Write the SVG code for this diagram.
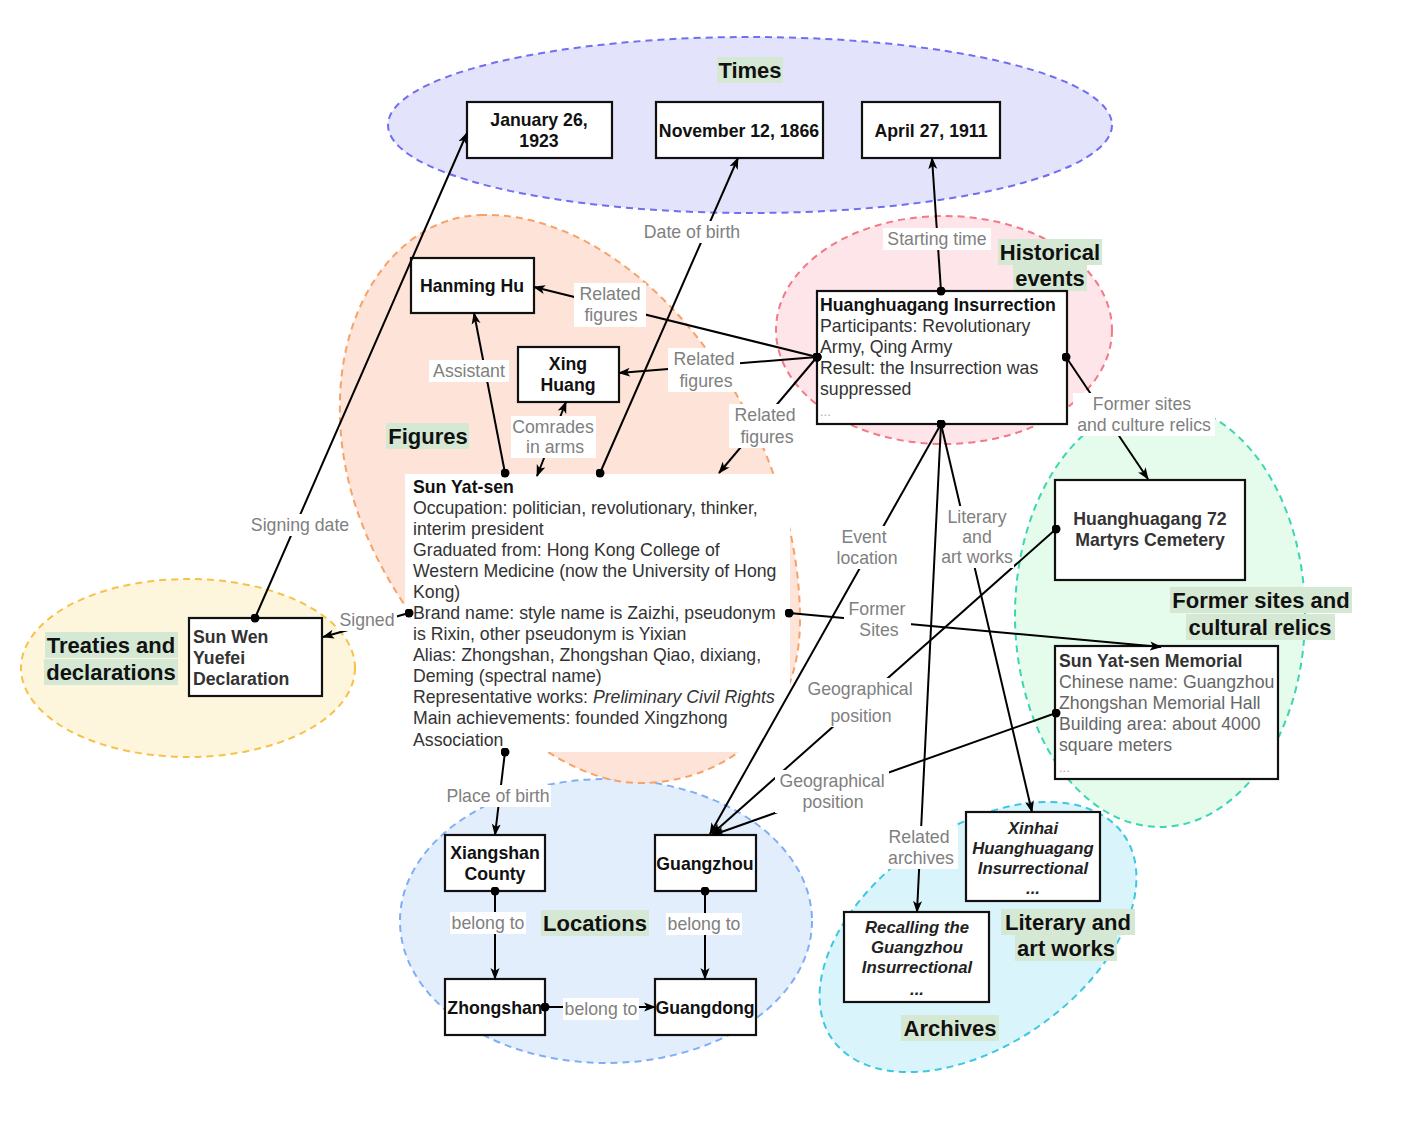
<svg xmlns="http://www.w3.org/2000/svg" width="1406" height="1132" viewBox="0 0 1406 1132">
<style>
text{font-family:"Liberation Sans",Arial,Helvetica,sans-serif;}
.grp{stroke-width:2;stroke-dasharray:7 5;}
.node{fill:#fff;stroke:#111;stroke-width:2.2;}
.t{font-size:17.7px;fill:#111;font-weight:bold;}
.tc{font-size:17.7px;fill:#111;font-weight:bold;text-anchor:middle;}
.tg{font-size:17.7px;fill:#333;font-weight:bold;}
.ti{font-size:16.7px;fill:#222;font-weight:bold;font-style:italic;text-anchor:middle;}
.b{font-size:17.7px;fill:#333;}
.bl{font-size:17.7px;fill:#666;}
.dots{font-size:13px;fill:#aaa;}
.lb{font-size:17.7px;fill:#808080;text-anchor:middle;}
.lbg{fill:#fff;}
.gt{font-size:22px;font-weight:bold;fill:#111;text-anchor:middle;}
.hl{fill:#d5e8d4;}
.c{stroke:#000;stroke-width:2;fill:none;marker-end:url(#a);}
.cd{marker-start:url(#d);}
</style>
<defs>
<marker id="a" viewBox="0 0 12 10" refX="11" refY="5" markerWidth="12" markerHeight="10" markerUnits="userSpaceOnUse" orient="auto-start-reverse"><path d="M0,0.5 L12,5 L0,9.5 L3,5 Z" fill="#000"/></marker>
<marker id="d" viewBox="0 0 10 10" refX="5" refY="5" markerWidth="9" markerHeight="9" markerUnits="userSpaceOnUse"><circle cx="5" cy="5" r="5" fill="#000"/></marker>
</defs>
<rect width="1406" height="1132" fill="#fff"/>

<g id="groups">
<ellipse id="g-times" class="grp" cx="750" cy="125" rx="362" ry="88" fill="#e3e3fb" stroke="#6f6ff0"/>
<ellipse id="g-events" class="grp" cx="944" cy="330" rx="168" ry="114" fill="#fde5ea" stroke="#f27a85"/>
<ellipse id="g-sites" class="grp" cx="1160" cy="615" rx="145" ry="212" fill="#e5fbec" stroke="#3cd6b0"/>
<ellipse id="g-treaties" class="grp" cx="188" cy="668" rx="167" ry="89" fill="#fdf6dd" stroke="#f7c14a"/>
<ellipse id="g-locations" class="grp" cx="606" cy="921" rx="206" ry="142" fill="#e3eefc" stroke="#80aef5"/>
<ellipse id="g-archives" class="grp" cx="978" cy="937" rx="178" ry="108" transform="rotate(-35 978 937)" fill="#d9f4fb" stroke="#3bc8e0"/>
<path id="g-figures" class="grp" d="M480,215 C560,212 640,265 697,337 C760,415 800,520 800,620 C800,730 720,783 640,783 C560,783 470,700 408,610 C360,540 338,470 340,400 C342,300 400,218 480,215 Z" fill="#fde3d8" stroke="#f7a267"/>
</g>

<g id="group-titles">
<rect class="hl" x="717" y="57" width="66" height="26"/><text class="gt" x="750" y="78">Times</text>
<rect class="hl" x="386" y="423" width="83" height="26"/><text class="gt" x="428" y="444">Figures</text>
<rect class="hl" x="998" y="239" width="104" height="26"/><text class="gt" x="1050" y="260">Historical</text>
<rect class="hl" x="1013" y="265" width="74" height="26"/><text class="gt" x="1050" y="286">events</text>
<rect class="hl" x="1170" y="587" width="182" height="26"/><text class="gt" x="1261" y="608">Former sites and</text>
<rect class="hl" x="1186" y="614" width="149" height="26"/><text class="gt" x="1260" y="635">cultural relics</text>
<rect class="hl" x="45" y="632" width="133" height="26"/><text class="gt" x="111" y="653">Treaties and</text>
<rect class="hl" x="44" y="659" width="134" height="26"/><text class="gt" x="111" y="680">declarations</text>
<rect class="hl" x="541" y="910" width="108" height="26"/><text class="gt" x="595" y="931">Locations</text>
<rect class="hl" x="1001" y="909" width="134" height="26"/><text class="gt" x="1068" y="930">Literary and</text>
<rect class="hl" x="1015" y="935" width="102" height="26"/><text class="gt" x="1066" y="956">art works</text>
<rect class="hl" x="901" y="1015" width="98" height="26"/><text class="gt" x="950" y="1036">Archives</text>
</g>

<g id="n-jan"><rect class="node" x="467" y="102" width="145" height="56"/><text class="tc" x="539" y="126">January 26,</text><text class="tc" x="539" y="147">1923</text></g>
<g id="n-nov"><rect class="node" x="656" y="102" width="167" height="56"/><text class="tc" x="739" y="137">November 12, 1866</text></g>
<g id="n-apr"><rect class="node" x="862" y="102" width="138" height="56"/><text class="tc" x="931" y="137">April 27, 1911</text></g>
<g id="n-hanming"><rect class="node" x="411" y="258" width="123" height="55"/><text class="tc" x="472" y="292">Hanming Hu</text></g>
<g id="n-xing"><rect class="node" x="518" y="347" width="101" height="55"/><text class="tc" x="568" y="370">Xing</text><text class="tc" x="568" y="391">Huang</text></g>
<g id="n-sun">
<rect x="405" y="474" width="385" height="278" fill="#fff"/>
<text class="t" x="413" y="493">Sun Yat-sen</text>
<text class="b" x="413" y="514">Occupation: politician, revolutionary, thinker,</text>
<text class="b" x="413" y="535">interim president</text>
<text class="b" x="413" y="556">Graduated from: Hong Kong College of</text>
<text class="b" x="413" y="577">Western Medicine (now the University of Hong</text>
<text class="b" x="413" y="598">Kong)</text>
<text class="b" x="413" y="619">Brand name: style name is Zaizhi, pseudonym</text>
<text class="b" x="413" y="640">is Rixin, other pseudonym is Yixian</text>
<text class="b" x="413" y="661">Alias: Zhongshan, Zhongshan Qiao, dixiang,</text>
<text class="b" x="413" y="682">Deming (spectral name)</text>
<text class="b" x="413" y="703">Representative works: <tspan font-style="italic">Preliminary Civil Rights</tspan></text>
<text class="b" x="413" y="724">Main achievements: founded Xingzhong</text>
<text class="b" x="413" y="746">Association</text>
</g>
<g id="n-event"><rect class="node" x="817" y="291" width="250" height="133"/>
<text class="t" x="820" y="311">Huanghuagang Insurrection</text>
<text class="b" x="820" y="332">Participants: Revolutionary</text>
<text class="b" x="820" y="353">Army, Qing Army</text>
<text class="b" x="820" y="374">Result: the Insurrection was</text>
<text class="b" x="820" y="395">suppressed</text>
<text class="dots" x="820" y="416">...</text>
</g>
<g id="n-declaration"><rect class="node" x="189" y="618" width="133" height="78"/>
<text class="tg" x="193" y="643">Sun Wen</text><text class="tg" x="193" y="664">Yuefei</text><text class="tg" x="193" y="685">Declaration</text></g>
<g id="n-cemetery"><rect class="node" x="1055" y="480" width="190" height="100"/>
<text class="tg" x="1150" y="525" text-anchor="middle">Huanghuagang 72</text><text class="tg" x="1150" y="546" text-anchor="middle">Martyrs Cemetery</text></g>
<g id="n-memorial"><rect class="node" x="1055" y="646" width="223" height="133"/>
<text class="tg" x="1059" y="667">Sun Yat-sen Memorial</text>
<text class="bl" x="1059" y="688">Chinese name: Guangzhou</text>
<text class="bl" x="1059" y="709">Zhongshan Memorial Hall</text>
<text class="bl" x="1059" y="730">Building area: about 4000</text>
<text class="bl" x="1059" y="751">square meters</text>
<text class="dots" x="1059" y="772" fill="#ccc">...</text>
</g>
<g id="n-xiangshan"><rect class="node" x="445" y="835" width="100" height="56"/><text class="tc" x="495" y="859">Xiangshan</text><text class="tc" x="495" y="880">County</text></g>
<g id="n-guangzhou"><rect class="node" x="655" y="835" width="101" height="56"/><text class="tc" x="705" y="870">Guangzhou</text></g>
<g id="n-zhongshan"><rect class="node" x="445" y="979" width="100" height="56"/><text class="tc" x="495" y="1014">Zhongshan</text></g>
<g id="n-guangdong"><rect class="node" x="655" y="979" width="101" height="56"/><text class="tc" x="705" y="1014">Guangdong</text></g>
<g id="n-xinhai"><rect class="node" x="966" y="812" width="134" height="89"/>
<text class="ti" x="1033" y="834">Xinhai</text><text class="ti" x="1033" y="854">Huanghuagang</text><text class="ti" x="1033" y="874">Insurrectional</text><text class="ti" x="1033" y="894" font-size="12">...</text></g>
<g id="n-recalling"><rect class="node" x="844" y="912" width="145" height="90"/>
<text class="ti" x="917" y="933">Recalling the</text><text class="ti" x="917" y="953">Guangzhou</text><text class="ti" x="917" y="973">Insurrectional</text><text class="ti" x="917" y="995" font-size="12">...</text></g>

<g id="connectors">
<line class="c cd" x1="255" y1="618" x2="467" y2="133"/>
<line class="c cd" x1="600" y1="473" x2="738" y2="158"/>
<line class="c cd" x1="941" y1="291" x2="932" y2="158"/>
<line class="c cd" x1="817" y1="357" x2="534" y2="287"/>
<line class="c cd" x1="817" y1="357" x2="619" y2="373"/>
<line class="c cd" x1="817" y1="357" x2="719" y2="473"/>
<line class="c cd" x1="505" y1="473" x2="474" y2="313"/>
<line class="c" x1="566" y1="402" x2="537" y2="476" marker-start="url(#a)"/>
<line class="c cd" x1="409" y1="613" x2="323" y2="637"/>
<line class="c cd" x1="505" y1="752" x2="495" y2="835"/>
<line class="c cd" x1="495" y1="891" x2="495" y2="979"/>
<line class="c cd" x1="705" y1="891" x2="705" y2="979"/>
<line class="c cd" x1="545" y1="1007" x2="655" y2="1007"/>
<line class="c cd" x1="941" y1="424" x2="710" y2="834"/>
<line class="c cd" x1="941" y1="424" x2="917" y2="912"/>
<line class="c cd" x1="941" y1="424" x2="1032" y2="812"/>
<line class="c cd" x1="1066" y1="357" x2="1148" y2="479"/>
<line class="c cd" x1="789" y1="613" x2="1161" y2="647"/>
<line class="c cd" x1="1056" y1="529" x2="712" y2="834"/>
<line class="c cd" x1="1056" y1="713" x2="713" y2="835"/>

<g id="labels">
<rect class="lbg" x="247" y="514" width="106" height="22"/><text class="lb" x="300" y="531">Signing date</text>
<rect class="lbg" x="639" y="221" width="107" height="22"/><text class="lb" x="692" y="238">Date of birth</text>
<rect class="lbg" x="883" y="228" width="108" height="22"/><text class="lb" x="937" y="245">Starting time</text>
<rect class="lbg" x="574" y="283" width="72" height="44"/><text class="lb" x="610" y="300">Related</text><text class="lb" x="611" y="321">figures</text>
<rect class="lbg" x="668" y="348" width="72" height="44"/><text class="lb" x="704" y="365">Related</text><text class="lb" x="706" y="387">figures</text>
<rect class="lbg" x="729" y="404" width="72" height="44"/><text class="lb" x="765" y="421">Related</text><text class="lb" x="767" y="443">figures</text>
<rect class="lbg" x="429" y="360" width="80" height="22"/><text class="lb" x="469" y="377">Assistant</text>
<rect class="lbg" x="511" y="416" width="85" height="42"/><text class="lb" x="553" y="433">Comrades</text><text class="lb" x="555" y="453">in arms</text>
<rect class="lbg" x="337" y="609" width="60" height="22"/><text class="lb" x="367" y="626">Signed</text>
<rect class="lbg" x="445" y="785" width="106" height="22"/><text class="lb" x="498" y="802">Place of birth</text>
<rect class="lbg" x="450" y="912" width="76" height="22"/><text class="lb" x="488" y="929">belong to</text>
<rect class="lbg" x="666" y="913" width="76" height="22"/><text class="lb" x="704" y="930">belong to</text>
<rect class="lbg" x="563" y="998" width="76" height="22"/><text class="lb" x="601" y="1015">belong to</text>
<rect class="lbg" x="833" y="526" width="68" height="43"/><text class="lb" x="864" y="543">Event</text><text class="lb" x="867" y="564">location</text>
<rect class="lbg" x="884" y="826" width="74" height="43"/><text class="lb" x="919" y="843">Related</text><text class="lb" x="921" y="864">archives</text>
<rect class="lbg" x="940" y="506" width="74" height="62"/><text class="lb" x="977" y="523">Literary</text><text class="lb" x="977" y="543">and</text><text class="lb" x="977" y="563">art works</text>
<rect class="lbg" x="1073" y="393" width="142" height="43"/><text class="lb" x="1142" y="410">Former sites</text><text class="lb" x="1144" y="431">and culture relics</text>
<rect class="lbg" x="844" y="598" width="67" height="43"/><text class="lb" x="877" y="615">Former</text><text class="lb" x="879" y="636">Sites</text>
<rect class="lbg" x="803" y="678" width="113" height="49"/><text class="lb" x="860" y="695">Geographical</text><text class="lb" x="861" y="722">position</text>
<rect class="lbg" x="775" y="770" width="114" height="43"/><text class="lb" x="832" y="787">Geographical</text><text class="lb" x="833" y="808">position</text>
</g>
</g>
</svg>
